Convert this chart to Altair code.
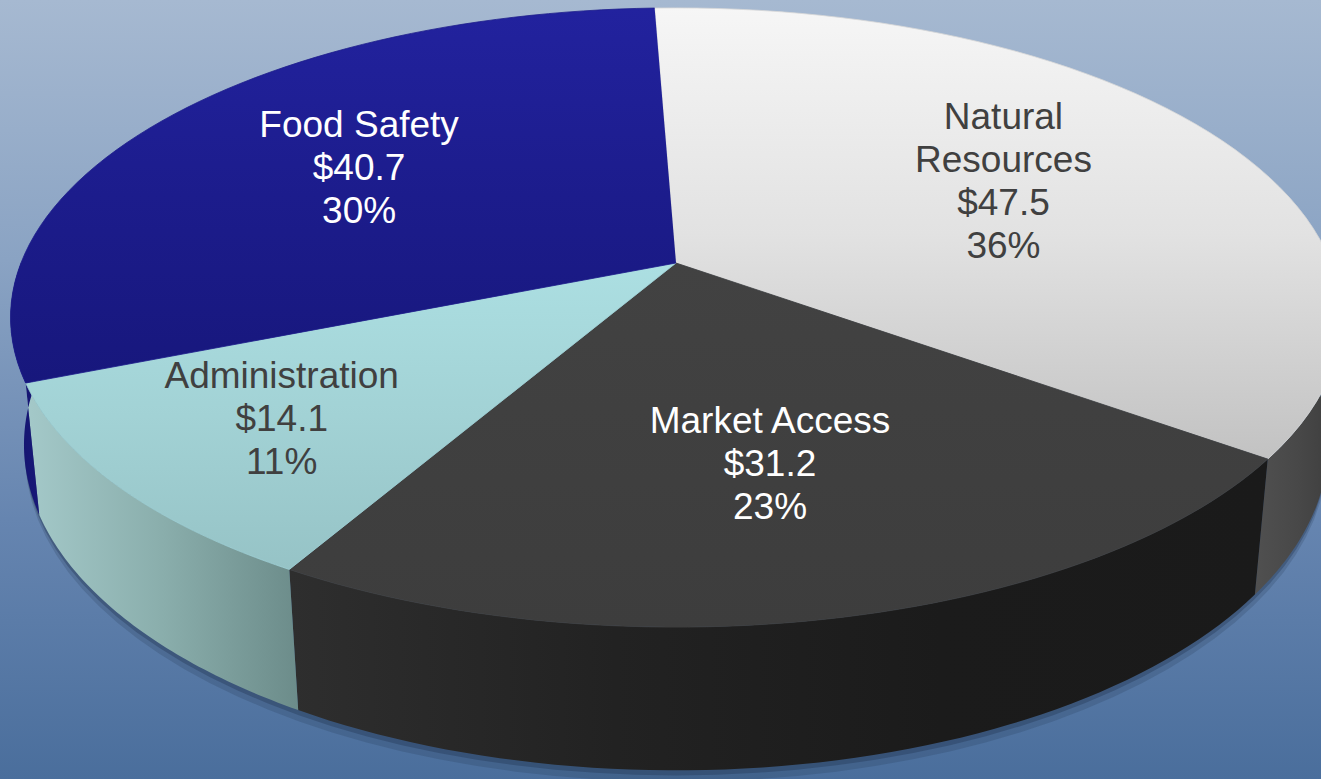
import altair as alt
import pandas as pd

# ---------------- data ----------------
categories = ["Natural Resources", "Market Access", "Administration", "Food Safety"]
values = [47.5, 31.2, 14.1, 40.7]

total = sum(values)


def wrap(name):
    return name.split(" ") if len(name) > 15 else [name]


labels = [
    "\n".join(wrap(c) + [f"${v:.1f}", f"{round(v / total * 100):d}%"])
    for c, v in zip(categories, values)
]

df = pd.DataFrame({
    "category": categories,
    "value": values,
    "order": list(range(len(categories))),
    "label": labels,
})

# ---------------- view / projection parameters ----------------
W, H = 1321, 779
F = 3308.0          # focal length (px)
D = 5.05            # camera distance (in pie radii)
S, C = 0.458, 0.889  # sin / cos of elevation
DEPTH = 0.22        # pie thickness (in radii)
ROT = -0.0384       # start angle offset (rad)
CX, CY = 676.0, 263.0
N = 60
FONT_SIZE = 37
LINE_H = 43

xscale = alt.Scale(domain=[-CX / F, (W - CX) / F], nice=False, zero=False)
yscale = alt.Scale(domain=[-(H - CY) / F, CY / F], nice=False, zero=False)


def lin(stops, horizontal=False):
    n = len(stops)
    return alt.Gradient(
        gradient="linear",
        stops=[alt.GradientStop(color=c, offset=i / (n - 1)) for i, c in enumerate(stops)],
        x1=0, y1=0, x2=1 if horizontal else 0, y2=0 if horizontal else 1,
    )


TOP = {
    "Natural Resources": (lin(["#f6f6f6", "#e2e2e2", "#c2c2c2"]), "#d8d8d8"),
    "Market Access": (lin(["#424242", "#3d3d3d"]), "#3f3f3f"),
    "Administration": (lin(["#acdfe2", "#a2d2d5", "#96c3c6"]), "#a0d0d3"),
    "Food Safety": (lin(["#22229e", "#1c1c8c", "#17177c"]), "#1d1d8c"),
}
SIDE = {
    "Natural Resources": lin(["#505050", "#484848", "#3c3c3c"], True),
    "Market Access": lin(["#2e2e2e", "#222222", "#1b1b1b", "#1a1a1a"], True),
    "Administration": lin(["#a4c9c9", "#8aaeac", "#6c8c8a"], True),
    "Food Safety": lin(["#13136c", "#181878"], True),
}
TEXT = {
    "Natural Resources": ("#404040", 0.595),
    "Market Access": ("#ffffff", 0.615),
    "Administration": ("#404040", 0.73),
    "Food Safety": ("#ffffff", 0.61),
}

proj = dict(
    dep=f"{D} - datum.Yu*{S} - datum.Z*{C}",
    px="datum.X/datum.dep",
    py=f"(datum.Yu*{C} - datum.Z*{S})/datum.dep",
)

base = (
    alt.Chart(df)
    .transform_joinaggregate(total="sum(value)")
    .transform_window(cum="sum(value)", sort=[alt.SortField("order")], frame=[None, 0])
    .transform_calculate(
        a0=f"{ROT} + 2*PI*(datum.cum - datum.value)/datum.total",
        a1=f"{ROT} + 2*PI*datum.cum/datum.total",
    )
)

enc = dict(
    x=alt.X("px:Q", scale=xscale, axis=None),
    y=alt.Y("py:Q", scale=yscale, axis=None),
    order=alt.Order("k:Q"),
    detail="category:N",
)

# background
bg = alt.Chart(alt.Data(values=[{}])).mark_rect(
    fill=lin(["#a6b9d1", "#8aa3c3", "#6685b0", "#4a6e9c"])
).encode(x=alt.value(0), x2=alt.value(W), y=alt.value(0), y2=alt.value(H))


def side_chart(src, extra, **mark):
    return (
        src.transform_calculate(k=f"sequence(0, {2 * N + 2})")
        .transform_flatten(["k"])
        .transform_calculate(
            t=f"datum.k <= {N} ? datum.b0 + (datum.b1-datum.b0)*datum.k/{N} : "
              f"datum.b1 - (datum.b1-datum.b0)*(datum.k-{N + 1})/{N}",
            X="sin(datum.t)",
            Z="-cos(datum.t)",
            Yu=f"datum.k <= {N} ? 0 : -{DEPTH + extra}",
            **proj,
        )
        .mark_line(strokeWidth=0, **mark)
        .encode(**enc)
    )


# soft shadow under the pie
shadow_src = alt.Chart(alt.Data(values=[{"category": "shadow"}])).transform_calculate(
    b0="PI/2", b1="3*PI/2"
)
shadows = [
    side_chart(shadow_src, 0.018, fill="#1a2a44", fillOpacity=0.18),
    side_chart(shadow_src, 0.008, fill="#1a2a44", fillOpacity=0.3),
]

sides, tops, texts = [], [], []
for cat, lab in zip(categories, labels):
    b = base.transform_filter(alt.datum.category == cat)
    sb = b.transform_calculate(b0="max(datum.a0, PI/2)", b1="min(datum.a1, 3*PI/2)").transform_filter(
        "datum.b1 > datum.b0"
    )
    sides.append(side_chart(sb, 0.0, fill=SIDE[cat]))

    fill, edge = TOP[cat]
    tops.append(
        b.transform_calculate(k=f"sequence(0, {N + 2})")
        .transform_flatten(["k"])
        .transform_calculate(
            r="datum.k == 0 ? 0 : 1",
            t=f"datum.a0 + (datum.a1-datum.a0)*max(datum.k-1, 0)/{N}",
            X="datum.r*sin(datum.t)",
            Z="-datum.r*cos(datum.t)",
            Yu="0",
            **proj,
        )
        .mark_line(fill=fill, stroke=edge, strokeWidth=0.8)
        .encode(**enc)
    )

    col, rho = TEXT[cat]
    n_lines = lab.count("\n") + 1
    texts.append(
        b.transform_calculate(
            t="(datum.a0+datum.a1)/2",
            X=f"{rho}*sin(datum.t)",
            Z=f"-{rho}*cos(datum.t)",
            Yu="0",
            **proj,
        )
        .mark_text(
            font="Liberation Sans", fontSize=FONT_SIZE, lineHeight=LINE_H, lineBreak="\n",
            color=col, align="center", baseline="middle",
            dy=-(n_lines - 1) * LINE_H / 2,
        )
        .encode(
            x=alt.X("px:Q", scale=xscale, axis=None),
            y=alt.Y("py:Q", scale=yscale, axis=None),
            text="label:N",
        )
    )

chart = (
    alt.layer(bg, *shadows, *sides, *tops, *texts)
    .properties(width=W, height=H, padding=0, autosize="none")
    .configure_view(stroke=None)
)

chart.save("out.html", embed_options={"renderer": "svg", "actions": False})
